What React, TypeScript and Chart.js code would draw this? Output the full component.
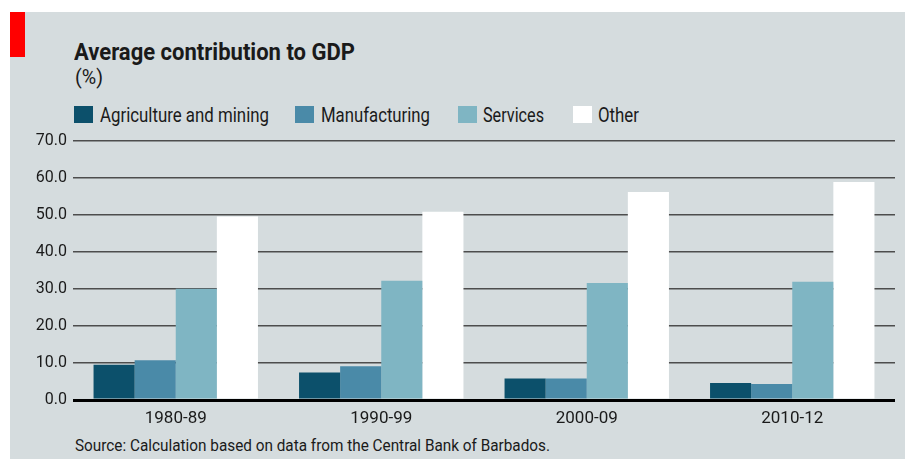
import React, { useEffect, useLayoutEffect, useRef } from 'react';
import { Chart, registerables } from 'chart.js';

Chart.register(...registerables);

// ---- Data ----
const categories = ['1980-89', '1990-99', '2000-09', '2010-12'];
const agricultureMining = [9.5, 7.4, 5.8, 4.6];
const manufacturing = [10.7, 9.1, 5.8, 4.3];
const services = [30.0, 32.2, 31.6, 31.9];
const other = [49.5, 50.8, 56.1, 58.8];
const seriesNames = ['Agriculture and mining', 'Manufacturing', 'Services', 'Other'];
const yMin = 0;
const yMax = 70;
const yStep = 10;

const title = 'Average contribution to GDP';
const subtitle = '(%)';
const source = 'Source: Calculation based on data from the Central Bank of Barbados.';

// ---- Styles ----
const colors = ['#0c506b', '#4a8aa8', '#7fb5c3', '#ffffff'];
const panelBg = '#d5dcde';
const FONT = 'Roboto, "Noto Sans", sans-serif';

type FitProps = {
  text: string;
  left: number;
  top: number;
  width: number;
  size: number;
  weight?: number | string;
  color?: string;
};

function FitText({ text, left, top, width, size, weight = 400, color = '#1a1a1a' }: FitProps) {
  const ref = useRef<HTMLDivElement>(null);
  useLayoutEffect(() => {
    const el = ref.current;
    if (!el) return;
    el.style.transform = 'none';
    const w = el.getBoundingClientRect().width;
    if (w > 0) el.style.transform = `scaleX(${width / w})`;
  }, [text, width]);
  return (
    <div
      ref={ref}
      style={{
        position: 'absolute',
        left,
        top,
        fontSize: size,
        fontWeight: weight as any,
        lineHeight: 1,
        whiteSpace: 'nowrap',
        transformOrigin: '0 0',
        fontFamily: FONT,
        color,
      }}
    >
      {text}
    </div>
  );
}

const legendItems = [
  { box: 74, text: 100, w: 169 },
  { box: 295, text: 321, w: 109 },
  { box: 458, text: 483, w: 61 },
  { box: 573, text: 598, w: 41 },
];

export default function App() {
  const canvasRef = useRef<HTMLCanvasElement>(null);

  useEffect(() => {
    document.body.style.margin = '0';
    const canvas = canvasRef.current;
    if (!canvas) return;
    const data = [agricultureMining, manufacturing, services, other];
    const chart = new Chart(canvas, {
      type: 'bar',
      data: {
        labels: categories,
        datasets: seriesNames.map((name, i) => ({
          label: name,
          data: data[i],
          backgroundColor: colors[i],
          borderWidth: 0,
          barPercentage: 1,
          categoryPercentage: 0.8,
        })),
      },
      options: {
        animation: false,
        responsive: false,
        maintainAspectRatio: false,
        devicePixelRatio: 1,
        layout: { padding: { top: 12, right: 10, bottom: 0, left: 0 } },
        plugins: {
          legend: { display: false },
          tooltip: { enabled: false },
          title: { display: false },
        },
        scales: {
          x: {
            grid: { display: false, drawTicks: false },
            border: { display: false },
            ticks: {
              color: '#1a1a1a',
              font: { family: FONT, size: 17 },
              padding: 9,
            },
            afterFit: (scale: any) => {
              scale.height = 35;
            },
          },
          y: {
            min: yMin,
            max: yMax,
            border: { display: false },
            grid: {
              drawTicks: false,
              color: (ctx: any) => (ctx.tick && ctx.tick.value === 0 ? '#000000' : '#4d4d4d'),
              lineWidth: (ctx: any) => (ctx.tick && ctx.tick.value === 0 ? 3 : 1.5),
            },
            ticks: {
              stepSize: yStep,
              color: '#1a1a1a',
              font: { family: FONT, size: 16 },
              padding: 6,
              callback: (v: any) => Number(v).toFixed(1),
            },
            afterFit: (scale: any) => {
              scale.width = 73;
            },
          },
        },
      },
    });
    return () => chart.destroy();
  }, []);

  return (
    <div style={{ position: 'absolute', left: 0, top: 0, width: 905, height: 459, background: '#ffffff', overflow: 'hidden' }}>
      <div style={{ position: 'absolute', left: 10, top: 12, width: 895, height: 447, background: panelBg }} />
      <div style={{ position: 'absolute', left: 10, top: 12, width: 15, height: 45, background: '#ff0000' }} />
      <FitText text={title} left={74} top={40} width={281} size={24} weight={700} />
      <FitText text={subtitle} left={75} top={67} width={28} size={20} />
      {legendItems.map((it, i) => (
        <React.Fragment key={i}>
          <div
            style={{
              position: 'absolute',
              left: it.box,
              top: 106,
              width: 19,
              height: 17,
              background: colors[i],
            }}
          />
          <FitText text={seriesNames[i]} left={it.text} top={105} width={it.w} size={20} />
        </React.Fragment>
      ))}
      <canvas
        ref={canvasRef}
        width={905}
        height={310}
        style={{ position: 'absolute', left: 0, top: 125, width: 905, height: 310 }}
      />
      <FitText text={source} left={75} top={437} width={475} size={17} />
    </div>
  );
}
